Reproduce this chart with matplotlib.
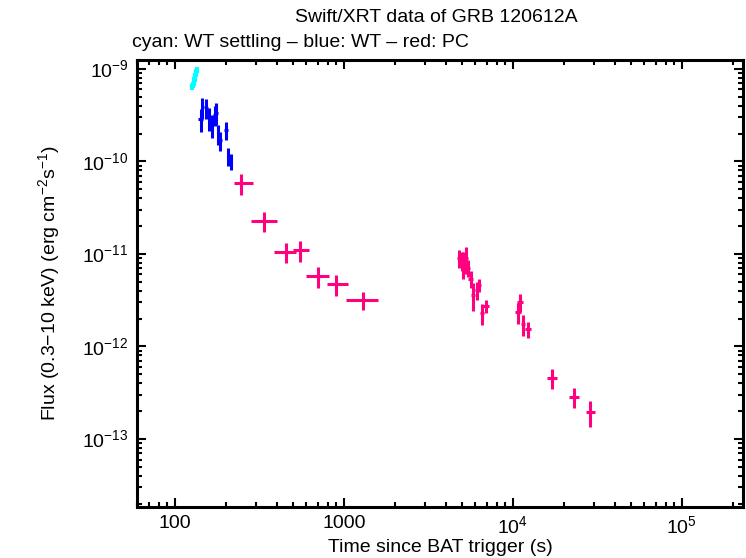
import numpy as np
import matplotlib
matplotlib.use("Agg")
import matplotlib.pyplot as plt
from matplotlib.ticker import LogLocator, FixedLocator, FixedFormatter, NullFormatter

# WT settling (cyan)
t_wts = [127, 128, 129, 130, 131, 132, 133, 134, 135]
f_wts = [6.4e-10, 6.8e-10, 7.2e-10, 7.5e-10, 7.9e-10, 8.3e-10, 8.8e-10, 9.3e-10, 9.8e-10]
fe_wts = [5e-11, 5e-11, 6e-11, 6e-11, 6e-11, 7e-11, 7e-11, 8e-11, 8e-11]
te_wts = [0.9] * 9

# WT (blue)
t_wt = [142, 145, 153, 160, 165, 172, 176, 181, 186, 200, 206, 215]
f_wt = [2.9e-10, 3.9e-10, 3.8e-10, 2.95e-10, 2.5e-10, 3.2e-10, 3.35e-10, 2.0e-10, 1.7e-10, 2.2e-10, 1.15e-10, 1.0e-10]
fe_wt = [0.8e-10, 1.0e-10, 0.9e-10, 0.8e-10, 0.7e-10, 0.8e-10, 0.9e-10, 0.5e-10, 0.4e-10, 0.5e-10, 0.25e-10, 0.2e-10]
te_wt = [5, 3, 3, 3, 3, 3, 3, 3, 3, 5, 4, 4]

# PC (red)
t_pc = [246, 336, 454, 550, 702, 897, 1295,
        4790, 4990, 5060, 5270, 5420, 5640, 5800, 6120, 6290, 6560, 6920,
        10700, 11000, 11460, 12270, 17000, 23000, 28600]
t_pc_lo = [23, 55, 69, 51, 106, 104, 270,
           150, 150, 150, 150, 150, 200, 150, 150, 150, 200, 280,
           400, 400, 350, 500, 1000, 1500, 1600]
t_pc_hi = [43, 65, 66, 70, 113, 160, 295,
           150, 150, 150, 150, 150, 200, 150, 150, 150, 200, 300,
           400, 400, 350, 500, 1300, 1500, 1800]
f_pc = [5.86e-11, 2.28e-11, 1.05e-11, 1.1e-11, 5.78e-12, 4.74e-12, 3.19e-12,
        9.1e-12, 8.6e-12, 7.9e-12, 9.0e-12, 7.1e-12, 5.4e-12, 3.6e-12, 4.1e-12, 4.6e-12, 2.3e-12, 2.74e-12,
        2.36e-12, 3.03e-12, 1.75e-12, 1.55e-12, 4.56e-13, 2.84e-13, 1.96e-13]
fe_pc = [1.5e-11, 5.5e-12, 2.6e-12, 2.8e-12, 1.45e-12, 1.2e-12, 0.7e-12,
         2.0e-12, 2.0e-12, 2.5e-12, 3.0e-12, 1.4e-12, 1.1e-12, 1.2e-12, 0.9e-12, 0.7e-12, 0.6e-12, 0.45e-12,
         0.6e-12, 0.7e-12, 0.45e-12, 0.3e-12, 1.1e-13, 0.7e-13, 0.6e-13]

plt.rcParams['font.family'] = ['Liberation Sans', 'DejaVu Sans']
plt.rcParams['mathtext.fontset'] = 'custom'
plt.rcParams['mathtext.rm'] = 'Liberation Sans'

fig = plt.figure(figsize=(7.46, 5.58), dpi=100)
ax = fig.add_axes([0.1836, 0.0914, 0.8124, 0.8011])

ax.errorbar(t_wts, f_wts, yerr=fe_wts, xerr=te_wts, fmt='none', ecolor='#00ffff', elinewidth=3, capsize=0)
ax.errorbar(t_wt, f_wt, yerr=fe_wt, xerr=te_wt, fmt='none', ecolor='#0000ff', elinewidth=2.2, capsize=0)
ax.errorbar(t_pc, f_pc, yerr=fe_pc, xerr=[t_pc_lo, t_pc_hi], fmt='none', ecolor='#ff0080', elinewidth=2.2, capsize=0)

ax.set_xscale('log')
ax.set_yscale('log')
ax.set_xlim(59.6, 2.3e5)
ax.set_ylim(1.84e-14, 1.25e-9)

ax.xaxis.set_major_locator(FixedLocator([100, 1000, 1e4, 1e5]))
ax.xaxis.set_major_formatter(FixedFormatter(['100', '1000', r'$10^4$', r'$10^5$']))
ax.xaxis.set_minor_locator(LogLocator(base=10, subs=np.arange(2, 10)))
ax.xaxis.set_minor_formatter(NullFormatter())
ax.yaxis.set_major_locator(FixedLocator([1e-13, 1e-12, 1e-11, 1e-10, 1e-9]))
ax.yaxis.set_major_formatter(FixedFormatter([r'$10^{-13}$', r'$10^{-12}$', r'$10^{-11}$', r'$10^{-10}$', r'$10^{-9}$']))
ax.yaxis.set_minor_locator(LogLocator(base=10, subs=np.arange(2, 10)))
ax.yaxis.set_minor_formatter(NullFormatter())

ax.tick_params(which='both', direction='in', top=True, right=True, width=1.5, labelsize=14)
ax.tick_params(which='major', length=6.5, pad=6)
ax.tick_params(which='minor', length=3.5)
for s in ax.spines.values():
    s.set_linewidth(2.2)

ax.set_xlabel('Time since BAT trigger (s)', fontsize=14, labelpad=1)
ax.set_ylabel(r'Flux (0.3$-$10 keV) (erg cm$^{-2}$s$^{-1}$)', fontsize=14, labelpad=14)
fig.text(0.585, 0.968, 'Swift/XRT data of GRB 120612A', ha='center', va='center', fontsize=14)
fig.text(0.177, 0.924, 'cyan: WT settling \u2013 blue: WT \u2013 red: PC', ha='left', va='center', fontsize=14)

fig.savefig('out.png', dpi=100)
